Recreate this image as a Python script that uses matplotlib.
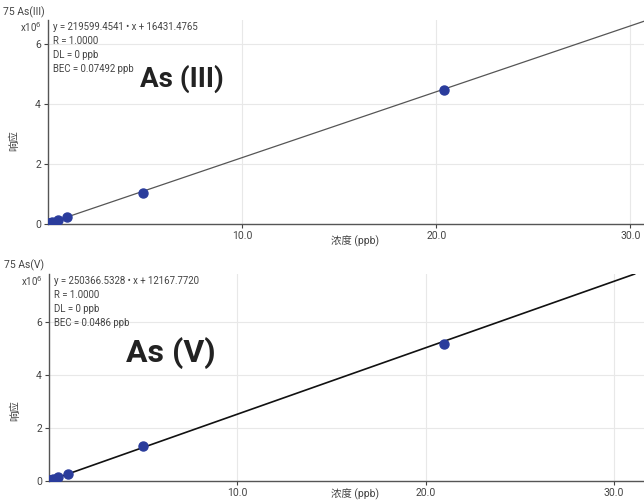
import matplotlib
matplotlib.use("Agg")
import numpy as np
import matplotlib.pyplot as plt

plt.rcParams['font.family'] = ['Roboto', 'Noto Sans CJK SC', 'DejaVu Sans']

# As(III) calibration
conc3 = [0.05, 0.1, 0.2, 0.5, 1.0, 4.9, 20.4]
resp3 = [0.03, 0.04, 0.06, 0.12, 0.23, 1.05, 4.47]   # x10^6
slope3, icpt3 = 219599.4541, 16431.4765
info3 = ["y = 219599.4541 • x + 16431.4765", "R = 1.0000", "DL = 0 ppb", "BEC = 0.07492 ppb"]

# As(V) calibration
conc5 = [0.05, 0.1, 0.2, 0.5, 1.0, 5.0, 21.0]
resp5 = [0.03, 0.04, 0.06, 0.14, 0.28, 1.32, 5.15]   # x10^6
slope5, icpt5 = 250366.5328, 12167.7720
info5 = ["y = 250366.5328 • x + 12167.7720", "R = 1.0000", "DL = 0 ppb", "BEC = 0.0486 ppb"]

yticks = [0, 2, 4, 6]
xticks = [10, 20, 30]
xticklabels = ["10.0", "20.0", "30.0"]

txt = '#444444'
fig = plt.figure(figsize=(6.44, 5), dpi=100)

def panel(rect, conc, resp, slope, icpt, info, name, big, big_xy, big_fs, xmax, ymax, xline, lc, lw, xlab_y, ylab_y):
    ax = fig.add_axes(rect)
    xs = np.array([0, xline])
    ax.plot(xs, (slope * xs + icpt) / 1e6, color=lc, lw=lw, zorder=2)
    ax.plot(conc, resp, 'o', color='#2a3c9c', ms=6.5, zorder=3)
    ax.set_xlim(0, xmax)
    ax.set_ylim(0, ymax)
    ax.set_xticks(xticks)
    ax.set_xticklabels(xticklabels)
    ax.set_yticks(yticks)
    ax.grid(True, color='#e8e8e8', lw=0.8, zorder=0)
    for s in ['top', 'right']:
        ax.spines[s].set_visible(False)
    for s in ['left', 'bottom']:
        ax.spines[s].set_color('#555555')
        ax.spines[s].set_linewidth(1.0)
    ax.tick_params(labelsize=7.5, colors=txt, length=3, width=0.8, pad=2)
    ax.text(-0.075, 1.04, name, transform=ax.transAxes, fontsize=7.5, color=txt, va='center')
    ax.text(-0.01, 1.0, r'x10$^6$', transform=ax.transAxes, fontsize=7, color=txt, ha='right', va='top')
    for i, line in enumerate(info):
        ax.text(0.008, 0.99 - i * 0.068, line, transform=ax.transAxes, fontsize=6.9, color=txt, va='top')
    ax.text(big_xy[0], big_xy[1], big, transform=ax.transAxes, fontsize=big_fs, fontweight='bold', color='#222222', va='center')
    ax.set_ylabel('响应', fontsize=7.5, color=txt)
    ax.yaxis.set_label_coords(-0.048, ylab_y)
    ax.text(0.515, xlab_y, '浓度 (ppb)', transform=ax.transAxes, fontsize=7.5, color=txt, ha='center', va='center')
    return ax

panel([0.0745, 0.552, 0.9255, 0.408], conc3, resp3, slope3, icpt3, info3, '75 As(III)',
      'As (III)', (0.155, 0.71), 20, 30.7, 6.8, 30.7, '#555555', 0.9, -0.085, 0.41)
panel([0.076, 0.038, 0.924, 0.414], conc5, resp5, slope5, icpt5, info5, '75 As(V)',
      'As (V)', (0.13, 0.62), 23, 31.6, 7.8, 31.1, '#111111', 1.2, -0.065, 0.34)

fig.savefig('out.png', dpi=100)
